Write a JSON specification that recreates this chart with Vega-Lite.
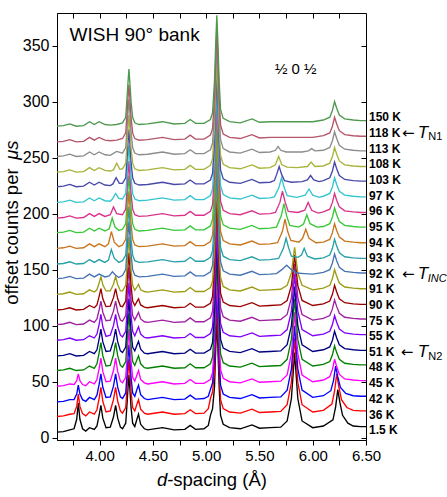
{
  "$schema": "https://vega.github.io/schema/vega-lite/v6.json",
  "autosize": "none",
  "width": 309,
  "height": 427,
  "padding": {"left": 57, "top": 13, "right": 81, "bottom": 57},
  "background": "white",
  "config": {
    "font": "Liberation Sans",
    "view": {"stroke": "black", "strokeWidth": 1},
    "axis": {"domainColor": "black", "tickColor": "black", "labelColor": "black", "grid": false, "labelFont": "Liberation Sans"}
  },
  "resolve": {"axis": {"x": "independent", "y": "independent"}},
  "layer": [
    {
      "data": {"values": [
        {"t":"1.5 K","d":3.6,"c":5},{"t":"1.5 K","d":3.66,"c":5.5},{"t":"1.5 K","d":3.72,"c":7},{"t":"1.5 K","d":3.76,"c":8},{"t":"1.5 K","d":3.785,"c":16.5},{"t":"1.5 K","d":3.8,"c":31},{"t":"1.5 K","d":3.815,"c":16.5},{"t":"1.5 K","d":3.84,"c":8},{"t":"1.5 K","d":3.87,"c":6},{"t":"1.5 K","d":3.905,"c":9},{"t":"1.5 K","d":3.95,"c":7.5},{"t":"1.5 K","d":3.975,"c":10.5},{"t":"1.5 K","d":3.995,"c":20},{"t":"1.5 K","d":4.012,"c":29},{"t":"1.5 K","d":4.03,"c":17.5},{"t":"1.5 K","d":4.06,"c":9},{"t":"1.5 K","d":4.1,"c":9.5},{"t":"1.5 K","d":4.13,"c":18.5},{"t":"1.5 K","d":4.15,"c":29},{"t":"1.5 K","d":4.17,"c":17.5},{"t":"1.5 K","d":4.195,"c":9.5},{"t":"1.5 K","d":4.215,"c":8},{"t":"1.5 K","d":4.245,"c":13},{"t":"1.5 K","d":4.255,"c":27},{"t":"1.5 K","d":4.267,"c":45},{"t":"1.5 K","d":4.275,"c":56},{"t":"1.5 K","d":4.283,"c":45},{"t":"1.5 K","d":4.295,"c":27},{"t":"1.5 K","d":4.31,"c":13},{"t":"1.5 K","d":4.33,"c":10},{"t":"1.5 K","d":4.35,"c":16.5},{"t":"1.5 K","d":4.365,"c":21},{"t":"1.5 K","d":4.385,"c":12},{"t":"1.5 K","d":4.42,"c":8},{"t":"1.5 K","d":4.45,"c":7},{"t":"1.5 K","d":4.59,"c":9},{"t":"1.5 K","d":4.7,"c":7},{"t":"1.5 K","d":4.8,"c":7.5},{"t":"1.5 K","d":4.85,"c":11},{"t":"1.5 K","d":4.9,"c":7.5},{"t":"1.5 K","d":4.98,"c":8},{"t":"1.5 K","d":5.02,"c":11},{"t":"1.5 K","d":5.04,"c":20},{"t":"1.5 K","d":5.06,"c":26},{"t":"1.5 K","d":5.078,"c":45},{"t":"1.5 K","d":5.09,"c":80},{"t":"1.5 K","d":5.1,"c":105},{"t":"1.5 K","d":5.11,"c":80},{"t":"1.5 K","d":5.122,"c":45},{"t":"1.5 K","d":5.135,"c":20},{"t":"1.5 K","d":5.16,"c":12},{"t":"1.5 K","d":5.22,"c":9},{"t":"1.5 K","d":5.32,"c":8},{"t":"1.5 K","d":5.43,"c":11.5},{"t":"1.5 K","d":5.5,"c":8.5},{"t":"1.5 K","d":5.6,"c":9},{"t":"1.5 K","d":5.7,"c":9.5},{"t":"1.5 K","d":5.76,"c":15},{"t":"1.5 K","d":5.8,"c":35},{"t":"1.5 K","d":5.83,"c":76},{"t":"1.5 K","d":5.86,"c":35},{"t":"1.5 K","d":5.9,"c":15},{"t":"1.5 K","d":6.0,"c":9},{"t":"1.5 K","d":6.1,"c":10.5},{"t":"1.5 K","d":6.19,"c":16},{"t":"1.5 K","d":6.215,"c":27.5},{"t":"1.5 K","d":6.235,"c":43},{"t":"1.5 K","d":6.255,"c":31.5},{"t":"1.5 K","d":6.28,"c":20},{"t":"1.5 K","d":6.33,"c":13},{"t":"1.5 K","d":6.38,"c":10.5},{"t":"1.5 K","d":6.45,"c":10},{"t":"1.5 K","d":6.5,"c":10},

        {"t":"36 K","d":3.6,"c":19},{"t":"36 K","d":3.66,"c":19.5},{"t":"36 K","d":3.72,"c":21},{"t":"36 K","d":3.76,"c":21.5},{"t":"36 K","d":3.785,"c":28},{"t":"36 K","d":3.8,"c":39},{"t":"36 K","d":3.815,"c":28},{"t":"36 K","d":3.84,"c":21.5},{"t":"36 K","d":3.87,"c":19.5},{"t":"36 K","d":3.905,"c":23},{"t":"36 K","d":3.95,"c":21},{"t":"36 K","d":3.975,"c":25},{"t":"36 K","d":3.995,"c":35},{"t":"36 K","d":4.012,"c":45},{"t":"36 K","d":4.03,"c":32.5},{"t":"36 K","d":4.06,"c":23},{"t":"36 K","d":4.1,"c":24},{"t":"36 K","d":4.13,"c":34},{"t":"36 K","d":4.15,"c":45},{"t":"36 K","d":4.17,"c":32.5},{"t":"36 K","d":4.195,"c":24},{"t":"36 K","d":4.215,"c":22},{"t":"36 K","d":4.245,"c":27},{"t":"36 K","d":4.255,"c":41},{"t":"36 K","d":4.267,"c":59},{"t":"36 K","d":4.275,"c":70},{"t":"36 K","d":4.283,"c":59},{"t":"36 K","d":4.295,"c":41},{"t":"36 K","d":4.31,"c":27},{"t":"36 K","d":4.33,"c":24},{"t":"36 K","d":4.35,"c":30},{"t":"36 K","d":4.365,"c":34},{"t":"36 K","d":4.385,"c":25.5},{"t":"36 K","d":4.42,"c":22},{"t":"36 K","d":4.45,"c":21},{"t":"36 K","d":4.59,"c":23},{"t":"36 K","d":4.7,"c":21},{"t":"36 K","d":4.8,"c":21.5},{"t":"36 K","d":4.85,"c":25},{"t":"36 K","d":4.9,"c":21.5},{"t":"36 K","d":4.98,"c":22},{"t":"36 K","d":5.02,"c":26},{"t":"36 K","d":5.04,"c":35},{"t":"36 K","d":5.06,"c":41},{"t":"36 K","d":5.078,"c":59},{"t":"36 K","d":5.09,"c":94},{"t":"36 K","d":5.1,"c":119},{"t":"36 K","d":5.11,"c":94},{"t":"36 K","d":5.122,"c":59},{"t":"36 K","d":5.135,"c":34},{"t":"36 K","d":5.16,"c":26},{"t":"36 K","d":5.22,"c":23},{"t":"36 K","d":5.32,"c":22},{"t":"36 K","d":5.43,"c":25.5},{"t":"36 K","d":5.5,"c":22.5},{"t":"36 K","d":5.6,"c":23},{"t":"36 K","d":5.7,"c":23.5},{"t":"36 K","d":5.76,"c":29.5},{"t":"36 K","d":5.8,"c":49.5},{"t":"36 K","d":5.83,"c":89},{"t":"36 K","d":5.86,"c":49.5},{"t":"36 K","d":5.9,"c":29.5},{"t":"36 K","d":6.0,"c":23},{"t":"36 K","d":6.1,"c":24.5},{"t":"36 K","d":6.18,"c":30},{"t":"36 K","d":6.205,"c":41.5},{"t":"36 K","d":6.225,"c":57},{"t":"36 K","d":6.245,"c":45.5},{"t":"36 K","d":6.27,"c":34},{"t":"36 K","d":6.32,"c":27},{"t":"36 K","d":6.38,"c":24.5},{"t":"36 K","d":6.45,"c":24},{"t":"36 K","d":6.5,"c":24},

        {"t":"42 K","d":3.6,"c":32},{"t":"42 K","d":3.66,"c":32.5},{"t":"42 K","d":3.72,"c":34},{"t":"42 K","d":3.76,"c":34},{"t":"42 K","d":3.785,"c":39},{"t":"42 K","d":3.8,"c":47},{"t":"42 K","d":3.815,"c":39},{"t":"42 K","d":3.84,"c":34},{"t":"42 K","d":3.87,"c":32.5},{"t":"42 K","d":3.905,"c":36},{"t":"42 K","d":3.95,"c":34},{"t":"42 K","d":3.975,"c":38},{"t":"42 K","d":3.995,"c":47.5},{"t":"42 K","d":4.012,"c":57},{"t":"42 K","d":4.03,"c":45},{"t":"42 K","d":4.06,"c":36},{"t":"42 K","d":4.1,"c":36.5},{"t":"42 K","d":4.13,"c":46},{"t":"42 K","d":4.15,"c":57},{"t":"42 K","d":4.17,"c":45},{"t":"42 K","d":4.195,"c":36.5},{"t":"42 K","d":4.215,"c":35},{"t":"42 K","d":4.245,"c":40},{"t":"42 K","d":4.255,"c":54},{"t":"42 K","d":4.267,"c":72},{"t":"42 K","d":4.275,"c":83},{"t":"42 K","d":4.283,"c":72},{"t":"42 K","d":4.295,"c":54},{"t":"42 K","d":4.31,"c":40},{"t":"42 K","d":4.33,"c":37},{"t":"42 K","d":4.35,"c":43},{"t":"42 K","d":4.365,"c":47},{"t":"42 K","d":4.385,"c":38.5},{"t":"42 K","d":4.42,"c":35},{"t":"42 K","d":4.45,"c":34},{"t":"42 K","d":4.59,"c":36},{"t":"42 K","d":4.7,"c":34},{"t":"42 K","d":4.8,"c":34.5},{"t":"42 K","d":4.85,"c":38},{"t":"42 K","d":4.9,"c":34.5},{"t":"42 K","d":4.98,"c":35},{"t":"42 K","d":5.02,"c":37},{"t":"42 K","d":5.04,"c":43},{"t":"42 K","d":5.06,"c":49},{"t":"42 K","d":5.078,"c":72},{"t":"42 K","d":5.09,"c":107},{"t":"42 K","d":5.1,"c":132},{"t":"42 K","d":5.11,"c":107},{"t":"42 K","d":5.122,"c":72},{"t":"42 K","d":5.135,"c":47},{"t":"42 K","d":5.16,"c":39},{"t":"42 K","d":5.22,"c":36},{"t":"42 K","d":5.32,"c":35},{"t":"42 K","d":5.43,"c":38.5},{"t":"42 K","d":5.5,"c":35.5},{"t":"42 K","d":5.6,"c":36},{"t":"42 K","d":5.7,"c":36.5},{"t":"42 K","d":5.76,"c":42.5},{"t":"42 K","d":5.8,"c":61.5},{"t":"42 K","d":5.83,"c":100},{"t":"42 K","d":5.86,"c":61.5},{"t":"42 K","d":5.9,"c":42.5},{"t":"42 K","d":6.0,"c":36},{"t":"42 K","d":6.1,"c":37.5},{"t":"42 K","d":6.17,"c":42},{"t":"42 K","d":6.195,"c":51},{"t":"42 K","d":6.215,"c":64},{"t":"42 K","d":6.235,"c":54.5},{"t":"42 K","d":6.26,"c":45},{"t":"42 K","d":6.31,"c":39.5},{"t":"42 K","d":6.38,"c":37.5},{"t":"42 K","d":6.45,"c":37},{"t":"42 K","d":6.5,"c":37},

        {"t":"45 K","d":3.6,"c":46},{"t":"45 K","d":3.66,"c":46.5},{"t":"45 K","d":3.72,"c":48},{"t":"45 K","d":3.76,"c":47.5},{"t":"45 K","d":3.785,"c":51},{"t":"45 K","d":3.8,"c":57},{"t":"45 K","d":3.815,"c":51},{"t":"45 K","d":3.84,"c":47.5},{"t":"45 K","d":3.87,"c":46.5},{"t":"45 K","d":3.905,"c":50},{"t":"45 K","d":3.95,"c":48},{"t":"45 K","d":3.975,"c":52},{"t":"45 K","d":3.995,"c":61.5},{"t":"45 K","d":4.012,"c":71},{"t":"45 K","d":4.03,"c":59},{"t":"45 K","d":4.06,"c":50},{"t":"45 K","d":4.1,"c":50.5},{"t":"45 K","d":4.13,"c":60},{"t":"45 K","d":4.15,"c":71},{"t":"45 K","d":4.17,"c":59},{"t":"45 K","d":4.195,"c":50.5},{"t":"45 K","d":4.215,"c":49},{"t":"45 K","d":4.245,"c":54},{"t":"45 K","d":4.255,"c":68},{"t":"45 K","d":4.267,"c":86},{"t":"45 K","d":4.275,"c":97},{"t":"45 K","d":4.283,"c":86},{"t":"45 K","d":4.295,"c":68},{"t":"45 K","d":4.31,"c":54},{"t":"45 K","d":4.33,"c":50.5},{"t":"45 K","d":4.35,"c":56},{"t":"45 K","d":4.365,"c":60},{"t":"45 K","d":4.385,"c":52},{"t":"45 K","d":4.42,"c":49},{"t":"45 K","d":4.45,"c":48},{"t":"45 K","d":4.59,"c":50},{"t":"45 K","d":4.7,"c":48},{"t":"45 K","d":4.8,"c":48.5},{"t":"45 K","d":4.85,"c":52},{"t":"45 K","d":4.9,"c":48.5},{"t":"45 K","d":4.98,"c":48.5},{"t":"45 K","d":5.04,"c":52},{"t":"45 K","d":5.06,"c":58},{"t":"45 K","d":5.078,"c":86},{"t":"45 K","d":5.09,"c":121},{"t":"45 K","d":5.1,"c":146},{"t":"45 K","d":5.11,"c":121},{"t":"45 K","d":5.122,"c":86},{"t":"45 K","d":5.135,"c":61},{"t":"45 K","d":5.16,"c":53},{"t":"45 K","d":5.22,"c":50},{"t":"45 K","d":5.32,"c":49},{"t":"45 K","d":5.43,"c":52.5},{"t":"45 K","d":5.5,"c":49.5},{"t":"45 K","d":5.6,"c":50},{"t":"45 K","d":5.7,"c":50.5},{"t":"45 K","d":5.76,"c":56},{"t":"45 K","d":5.8,"c":75},{"t":"45 K","d":5.83,"c":112},{"t":"45 K","d":5.86,"c":75},{"t":"45 K","d":5.9,"c":56},{"t":"45 K","d":6.0,"c":50},{"t":"45 K","d":6.1,"c":51.5},{"t":"45 K","d":6.16,"c":54.5},{"t":"45 K","d":6.185,"c":61},{"t":"45 K","d":6.205,"c":70},{"t":"45 K","d":6.225,"c":63.5},{"t":"45 K","d":6.25,"c":56.5},{"t":"45 K","d":6.3,"c":52.5},{"t":"45 K","d":6.38,"c":51.5},{"t":"45 K","d":6.45,"c":51},{"t":"45 K","d":6.5,"c":51},

        {"t":"48 K","d":3.6,"c":60},{"t":"48 K","d":3.66,"c":60.5},{"t":"48 K","d":3.72,"c":62},{"t":"48 K","d":3.78,"c":60},{"t":"48 K","d":3.85,"c":60.5},{"t":"48 K","d":3.905,"c":64},{"t":"48 K","d":3.95,"c":62},{"t":"48 K","d":3.975,"c":66},{"t":"48 K","d":3.995,"c":75.5},{"t":"48 K","d":4.012,"c":85},{"t":"48 K","d":4.03,"c":73},{"t":"48 K","d":4.06,"c":64},{"t":"48 K","d":4.1,"c":64.5},{"t":"48 K","d":4.13,"c":74},{"t":"48 K","d":4.15,"c":85},{"t":"48 K","d":4.17,"c":73},{"t":"48 K","d":4.195,"c":64.5},{"t":"48 K","d":4.215,"c":63},{"t":"48 K","d":4.245,"c":68},{"t":"48 K","d":4.255,"c":82},{"t":"48 K","d":4.267,"c":100},{"t":"48 K","d":4.275,"c":111},{"t":"48 K","d":4.283,"c":100},{"t":"48 K","d":4.295,"c":82},{"t":"48 K","d":4.31,"c":68},{"t":"48 K","d":4.33,"c":64.5},{"t":"48 K","d":4.35,"c":69.5},{"t":"48 K","d":4.365,"c":73},{"t":"48 K","d":4.385,"c":66},{"t":"48 K","d":4.42,"c":62.5},{"t":"48 K","d":4.45,"c":62},{"t":"48 K","d":4.59,"c":64},{"t":"48 K","d":4.7,"c":62},{"t":"48 K","d":4.8,"c":62.5},{"t":"48 K","d":4.85,"c":66},{"t":"48 K","d":4.9,"c":62.5},{"t":"48 K","d":4.98,"c":62.5},{"t":"48 K","d":5.04,"c":66},{"t":"48 K","d":5.06,"c":72},{"t":"48 K","d":5.078,"c":100},{"t":"48 K","d":5.09,"c":135},{"t":"48 K","d":5.1,"c":160},{"t":"48 K","d":5.11,"c":135},{"t":"48 K","d":5.122,"c":100},{"t":"48 K","d":5.135,"c":75},{"t":"48 K","d":5.16,"c":67},{"t":"48 K","d":5.22,"c":64},{"t":"48 K","d":5.32,"c":63},{"t":"48 K","d":5.43,"c":66.5},{"t":"48 K","d":5.5,"c":63.5},{"t":"48 K","d":5.6,"c":64},{"t":"48 K","d":5.7,"c":64.5},{"t":"48 K","d":5.76,"c":70},{"t":"48 K","d":5.8,"c":88},{"t":"48 K","d":5.83,"c":124},{"t":"48 K","d":5.86,"c":88},{"t":"48 K","d":5.9,"c":70},{"t":"48 K","d":6.0,"c":64},{"t":"48 K","d":6.1,"c":65.5},{"t":"48 K","d":6.16,"c":68},{"t":"48 K","d":6.185,"c":74},{"t":"48 K","d":6.205,"c":82},{"t":"48 K","d":6.225,"c":76},{"t":"48 K","d":6.25,"c":70},{"t":"48 K","d":6.3,"c":66.5},{"t":"48 K","d":6.38,"c":65.5},{"t":"48 K","d":6.45,"c":65},{"t":"48 K","d":6.5,"c":65},

        {"t":"51 K","d":3.6,"c":73},{"t":"51 K","d":3.66,"c":73.5},{"t":"51 K","d":3.72,"c":75},{"t":"51 K","d":3.78,"c":73},{"t":"51 K","d":3.85,"c":73.5},{"t":"51 K","d":3.905,"c":77},{"t":"51 K","d":3.95,"c":75},{"t":"51 K","d":3.975,"c":78.5},{"t":"51 K","d":3.995,"c":88},{"t":"51 K","d":4.012,"c":97},{"t":"51 K","d":4.03,"c":85.5},{"t":"51 K","d":4.06,"c":77},{"t":"51 K","d":4.1,"c":77.5},{"t":"51 K","d":4.13,"c":86.5},{"t":"51 K","d":4.15,"c":97},{"t":"51 K","d":4.17,"c":85.5},{"t":"51 K","d":4.195,"c":77.5},{"t":"51 K","d":4.215,"c":76},{"t":"51 K","d":4.245,"c":81},{"t":"51 K","d":4.255,"c":95},{"t":"51 K","d":4.267,"c":113},{"t":"51 K","d":4.275,"c":124},{"t":"51 K","d":4.283,"c":113},{"t":"51 K","d":4.295,"c":95},{"t":"51 K","d":4.31,"c":81},{"t":"51 K","d":4.33,"c":77.5},{"t":"51 K","d":4.35,"c":82.5},{"t":"51 K","d":4.365,"c":86},{"t":"51 K","d":4.385,"c":79},{"t":"51 K","d":4.42,"c":75.5},{"t":"51 K","d":4.45,"c":75},{"t":"51 K","d":4.59,"c":77},{"t":"51 K","d":4.7,"c":75},{"t":"51 K","d":4.8,"c":75.5},{"t":"51 K","d":4.85,"c":79},{"t":"51 K","d":4.9,"c":75.5},{"t":"51 K","d":4.98,"c":75.5},{"t":"51 K","d":5.04,"c":79},{"t":"51 K","d":5.06,"c":85},{"t":"51 K","d":5.078,"c":113},{"t":"51 K","d":5.09,"c":148},{"t":"51 K","d":5.1,"c":173},{"t":"51 K","d":5.11,"c":148},{"t":"51 K","d":5.122,"c":113},{"t":"51 K","d":5.135,"c":88},{"t":"51 K","d":5.16,"c":80},{"t":"51 K","d":5.22,"c":77},{"t":"51 K","d":5.32,"c":76},{"t":"51 K","d":5.43,"c":79.5},{"t":"51 K","d":5.5,"c":76.5},{"t":"51 K","d":5.6,"c":77},{"t":"51 K","d":5.7,"c":77.5},{"t":"51 K","d":5.76,"c":83},{"t":"51 K","d":5.8,"c":100},{"t":"51 K","d":5.83,"c":135},{"t":"51 K","d":5.86,"c":100},{"t":"51 K","d":5.9,"c":83},{"t":"51 K","d":6.0,"c":77},{"t":"51 K","d":6.1,"c":78.5},{"t":"51 K","d":6.16,"c":81},{"t":"51 K","d":6.185,"c":87},{"t":"51 K","d":6.205,"c":95},{"t":"51 K","d":6.225,"c":89},{"t":"51 K","d":6.25,"c":83},{"t":"51 K","d":6.3,"c":79.5},{"t":"51 K","d":6.38,"c":78.5},{"t":"51 K","d":6.45,"c":78},{"t":"51 K","d":6.5,"c":78},

        {"t":"55 K","d":3.6,"c":87},{"t":"55 K","d":3.66,"c":87.5},{"t":"55 K","d":3.72,"c":89},{"t":"55 K","d":3.78,"c":87},{"t":"55 K","d":3.85,"c":87.5},{"t":"55 K","d":3.905,"c":91},{"t":"55 K","d":3.95,"c":89},{"t":"55 K","d":3.975,"c":92.5},{"t":"55 K","d":3.995,"c":101},{"t":"55 K","d":4.012,"c":110},{"t":"55 K","d":4.03,"c":99},{"t":"55 K","d":4.06,"c":90.5},{"t":"55 K","d":4.1,"c":91.5},{"t":"55 K","d":4.13,"c":100},{"t":"55 K","d":4.15,"c":110},{"t":"55 K","d":4.17,"c":99},{"t":"55 K","d":4.195,"c":91.5},{"t":"55 K","d":4.215,"c":90},{"t":"55 K","d":4.245,"c":95},{"t":"55 K","d":4.255,"c":109},{"t":"55 K","d":4.267,"c":127},{"t":"55 K","d":4.275,"c":138},{"t":"55 K","d":4.283,"c":127},{"t":"55 K","d":4.295,"c":109},{"t":"55 K","d":4.31,"c":95},{"t":"55 K","d":4.33,"c":91},{"t":"55 K","d":4.35,"c":95.5},{"t":"55 K","d":4.365,"c":99},{"t":"55 K","d":4.385,"c":92.5},{"t":"55 K","d":4.42,"c":89.5},{"t":"55 K","d":4.45,"c":89},{"t":"55 K","d":4.59,"c":91},{"t":"55 K","d":4.7,"c":89},{"t":"55 K","d":4.8,"c":89.5},{"t":"55 K","d":4.85,"c":93},{"t":"55 K","d":4.9,"c":89.5},{"t":"55 K","d":4.98,"c":89.5},{"t":"55 K","d":5.04,"c":93},{"t":"55 K","d":5.06,"c":99},{"t":"55 K","d":5.078,"c":127},{"t":"55 K","d":5.09,"c":162},{"t":"55 K","d":5.1,"c":187},{"t":"55 K","d":5.11,"c":162},{"t":"55 K","d":5.122,"c":127},{"t":"55 K","d":5.135,"c":102},{"t":"55 K","d":5.16,"c":94},{"t":"55 K","d":5.22,"c":91},{"t":"55 K","d":5.32,"c":90},{"t":"55 K","d":5.43,"c":93.5},{"t":"55 K","d":5.5,"c":90.5},{"t":"55 K","d":5.6,"c":91},{"t":"55 K","d":5.7,"c":91.5},{"t":"55 K","d":5.76,"c":96.5},{"t":"55 K","d":5.8,"c":113},{"t":"55 K","d":5.83,"c":146},{"t":"55 K","d":5.86,"c":113},{"t":"55 K","d":5.9,"c":96.5},{"t":"55 K","d":6.0,"c":91},{"t":"55 K","d":6.1,"c":92.5},{"t":"55 K","d":6.16,"c":95},{"t":"55 K","d":6.185,"c":101},{"t":"55 K","d":6.205,"c":109},{"t":"55 K","d":6.225,"c":103},{"t":"55 K","d":6.25,"c":97},{"t":"55 K","d":6.3,"c":93.5},{"t":"55 K","d":6.38,"c":92.5},{"t":"55 K","d":6.45,"c":92},{"t":"55 K","d":6.5,"c":92},

        {"t":"75 K","d":3.6,"c":101},{"t":"75 K","d":3.66,"c":101.5},{"t":"75 K","d":3.72,"c":103},{"t":"75 K","d":3.78,"c":101},{"t":"75 K","d":3.85,"c":101.5},{"t":"75 K","d":3.905,"c":105},{"t":"75 K","d":3.95,"c":103},{"t":"75 K","d":3.975,"c":106},{"t":"75 K","d":3.995,"c":114},{"t":"75 K","d":4.012,"c":122},{"t":"75 K","d":4.03,"c":112},{"t":"75 K","d":4.06,"c":104.5},{"t":"75 K","d":4.1,"c":105},{"t":"75 K","d":4.13,"c":113},{"t":"75 K","d":4.15,"c":122},{"t":"75 K","d":4.17,"c":112},{"t":"75 K","d":4.195,"c":105},{"t":"75 K","d":4.215,"c":104},{"t":"75 K","d":4.245,"c":109},{"t":"75 K","d":4.255,"c":123},{"t":"75 K","d":4.267,"c":141},{"t":"75 K","d":4.275,"c":152},{"t":"75 K","d":4.283,"c":141},{"t":"75 K","d":4.295,"c":123},{"t":"75 K","d":4.31,"c":109},{"t":"75 K","d":4.33,"c":105},{"t":"75 K","d":4.35,"c":109},{"t":"75 K","d":4.365,"c":112},{"t":"75 K","d":4.385,"c":106},{"t":"75 K","d":4.42,"c":103.5},{"t":"75 K","d":4.45,"c":103},{"t":"75 K","d":4.59,"c":105},{"t":"75 K","d":4.7,"c":103},{"t":"75 K","d":4.8,"c":103.5},{"t":"75 K","d":4.85,"c":107},{"t":"75 K","d":4.9,"c":103.5},{"t":"75 K","d":4.98,"c":103.5},{"t":"75 K","d":5.04,"c":107},{"t":"75 K","d":5.06,"c":113},{"t":"75 K","d":5.078,"c":141},{"t":"75 K","d":5.09,"c":176},{"t":"75 K","d":5.1,"c":201},{"t":"75 K","d":5.11,"c":176},{"t":"75 K","d":5.122,"c":141},{"t":"75 K","d":5.135,"c":116},{"t":"75 K","d":5.16,"c":108},{"t":"75 K","d":5.22,"c":105},{"t":"75 K","d":5.32,"c":104},{"t":"75 K","d":5.43,"c":107.5},{"t":"75 K","d":5.5,"c":104.5},{"t":"75 K","d":5.6,"c":105},{"t":"75 K","d":5.7,"c":105.5},{"t":"75 K","d":5.76,"c":110},{"t":"75 K","d":5.8,"c":125},{"t":"75 K","d":5.83,"c":155},{"t":"75 K","d":5.86,"c":125},{"t":"75 K","d":5.9,"c":110},{"t":"75 K","d":6.0,"c":105},{"t":"75 K","d":6.1,"c":106.5},{"t":"75 K","d":6.16,"c":109},{"t":"75 K","d":6.185,"c":115},{"t":"75 K","d":6.205,"c":123},{"t":"75 K","d":6.225,"c":117},{"t":"75 K","d":6.25,"c":111},{"t":"75 K","d":6.3,"c":107.5},{"t":"75 K","d":6.38,"c":106.5},{"t":"75 K","d":6.45,"c":106},{"t":"75 K","d":6.5,"c":106},

        {"t":"90 K","d":3.6,"c":114},{"t":"90 K","d":3.66,"c":114.5},{"t":"90 K","d":3.72,"c":116},{"t":"90 K","d":3.78,"c":114},{"t":"90 K","d":3.85,"c":114.5},{"t":"90 K","d":3.905,"c":118},{"t":"90 K","d":3.95,"c":116},{"t":"90 K","d":3.975,"c":118.5},{"t":"90 K","d":3.995,"c":126},{"t":"90 K","d":4.012,"c":133},{"t":"90 K","d":4.03,"c":124},{"t":"90 K","d":4.06,"c":117},{"t":"90 K","d":4.1,"c":117.5},{"t":"90 K","d":4.13,"c":125},{"t":"90 K","d":4.15,"c":133},{"t":"90 K","d":4.17,"c":124},{"t":"90 K","d":4.195,"c":117.5},{"t":"90 K","d":4.215,"c":117},{"t":"90 K","d":4.245,"c":122},{"t":"90 K","d":4.255,"c":136},{"t":"90 K","d":4.267,"c":154},{"t":"90 K","d":4.275,"c":165},{"t":"90 K","d":4.283,"c":154},{"t":"90 K","d":4.295,"c":136},{"t":"90 K","d":4.31,"c":122},{"t":"90 K","d":4.33,"c":118},{"t":"90 K","d":4.35,"c":121.5},{"t":"90 K","d":4.365,"c":124},{"t":"90 K","d":4.385,"c":118.5},{"t":"90 K","d":4.42,"c":116.5},{"t":"90 K","d":4.45,"c":116},{"t":"90 K","d":4.59,"c":118},{"t":"90 K","d":4.7,"c":116},{"t":"90 K","d":4.8,"c":116.5},{"t":"90 K","d":4.85,"c":120},{"t":"90 K","d":4.9,"c":116.5},{"t":"90 K","d":4.98,"c":116.5},{"t":"90 K","d":5.04,"c":120},{"t":"90 K","d":5.06,"c":126},{"t":"90 K","d":5.078,"c":154},{"t":"90 K","d":5.09,"c":189},{"t":"90 K","d":5.1,"c":214},{"t":"90 K","d":5.11,"c":189},{"t":"90 K","d":5.122,"c":154},{"t":"90 K","d":5.135,"c":129},{"t":"90 K","d":5.16,"c":121},{"t":"90 K","d":5.22,"c":118},{"t":"90 K","d":5.32,"c":117},{"t":"90 K","d":5.43,"c":120.5},{"t":"90 K","d":5.5,"c":117.5},{"t":"90 K","d":5.6,"c":118},{"t":"90 K","d":5.7,"c":118.5},{"t":"90 K","d":5.76,"c":122.5},{"t":"90 K","d":5.8,"c":136},{"t":"90 K","d":5.83,"c":163},{"t":"90 K","d":5.86,"c":136},{"t":"90 K","d":5.9,"c":122.5},{"t":"90 K","d":6.0,"c":118},{"t":"90 K","d":6.1,"c":119.5},{"t":"90 K","d":6.16,"c":122},{"t":"90 K","d":6.185,"c":128},{"t":"90 K","d":6.205,"c":136},{"t":"90 K","d":6.225,"c":130},{"t":"90 K","d":6.25,"c":124},{"t":"90 K","d":6.3,"c":120.5},{"t":"90 K","d":6.38,"c":119.5},{"t":"90 K","d":6.45,"c":119},{"t":"90 K","d":6.5,"c":119},

        {"t":"91 K","d":3.6,"c":128},{"t":"91 K","d":3.66,"c":128.5},{"t":"91 K","d":3.72,"c":130},{"t":"91 K","d":3.78,"c":128},{"t":"91 K","d":3.85,"c":128.5},{"t":"91 K","d":3.905,"c":132},{"t":"91 K","d":3.95,"c":130},{"t":"91 K","d":3.975,"c":132},{"t":"91 K","d":3.995,"c":138},{"t":"91 K","d":4.012,"c":144},{"t":"91 K","d":4.03,"c":136.5},{"t":"91 K","d":4.06,"c":131},{"t":"91 K","d":4.1,"c":131},{"t":"91 K","d":4.13,"c":137},{"t":"91 K","d":4.15,"c":144},{"t":"91 K","d":4.17,"c":136.5},{"t":"91 K","d":4.195,"c":131},{"t":"91 K","d":4.215,"c":131},{"t":"91 K","d":4.245,"c":136},{"t":"91 K","d":4.255,"c":150},{"t":"91 K","d":4.267,"c":168},{"t":"91 K","d":4.275,"c":179},{"t":"91 K","d":4.283,"c":168},{"t":"91 K","d":4.295,"c":150},{"t":"91 K","d":4.31,"c":136},{"t":"91 K","d":4.33,"c":131.5},{"t":"91 K","d":4.35,"c":134.5},{"t":"91 K","d":4.365,"c":137},{"t":"91 K","d":4.385,"c":132},{"t":"91 K","d":4.42,"c":130.5},{"t":"91 K","d":4.45,"c":130},{"t":"91 K","d":4.59,"c":132},{"t":"91 K","d":4.7,"c":130},{"t":"91 K","d":4.8,"c":130.5},{"t":"91 K","d":4.85,"c":134},{"t":"91 K","d":4.9,"c":130.5},{"t":"91 K","d":4.98,"c":130.5},{"t":"91 K","d":5.04,"c":134},{"t":"91 K","d":5.06,"c":140},{"t":"91 K","d":5.078,"c":168},{"t":"91 K","d":5.09,"c":203},{"t":"91 K","d":5.1,"c":228},{"t":"91 K","d":5.11,"c":203},{"t":"91 K","d":5.122,"c":168},{"t":"91 K","d":5.135,"c":143},{"t":"91 K","d":5.16,"c":135},{"t":"91 K","d":5.22,"c":132},{"t":"91 K","d":5.32,"c":131},{"t":"91 K","d":5.43,"c":134.5},{"t":"91 K","d":5.5,"c":131.5},{"t":"91 K","d":5.6,"c":132},{"t":"91 K","d":5.7,"c":132.5},{"t":"91 K","d":5.76,"c":136},{"t":"91 K","d":5.8,"c":147},{"t":"91 K","d":5.83,"c":170},{"t":"91 K","d":5.86,"c":147},{"t":"91 K","d":5.9,"c":136},{"t":"91 K","d":6.0,"c":132},{"t":"91 K","d":6.1,"c":133.5},{"t":"91 K","d":6.16,"c":136},{"t":"91 K","d":6.185,"c":142},{"t":"91 K","d":6.205,"c":150},{"t":"91 K","d":6.225,"c":144},{"t":"91 K","d":6.25,"c":138},{"t":"91 K","d":6.3,"c":134.5},{"t":"91 K","d":6.38,"c":133.5},{"t":"91 K","d":6.45,"c":133},{"t":"91 K","d":6.5,"c":133},

        {"t":"92 K","d":3.6,"c":142},{"t":"92 K","d":3.66,"c":142.5},{"t":"92 K","d":3.72,"c":144},{"t":"92 K","d":3.78,"c":142},{"t":"92 K","d":3.85,"c":142.5},{"t":"92 K","d":3.905,"c":146},{"t":"92 K","d":3.95,"c":143.5},{"t":"92 K","d":3.995,"c":146},{"t":"92 K","d":4.05,"c":143.5},{"t":"92 K","d":4.09,"c":144.5},{"t":"92 K","d":4.12,"c":148},{"t":"92 K","d":4.15,"c":145},{"t":"92 K","d":4.18,"c":143},{"t":"92 K","d":4.215,"c":145},{"t":"92 K","d":4.245,"c":150},{"t":"92 K","d":4.255,"c":164},{"t":"92 K","d":4.267,"c":182},{"t":"92 K","d":4.275,"c":193},{"t":"92 K","d":4.283,"c":182},{"t":"92 K","d":4.295,"c":164},{"t":"92 K","d":4.31,"c":150},{"t":"92 K","d":4.33,"c":145},{"t":"92 K","d":4.37,"c":143.5},{"t":"92 K","d":4.45,"c":144},{"t":"92 K","d":4.59,"c":146},{"t":"92 K","d":4.7,"c":144},{"t":"92 K","d":4.8,"c":144.5},{"t":"92 K","d":4.85,"c":148},{"t":"92 K","d":4.9,"c":144.5},{"t":"92 K","d":4.98,"c":144.5},{"t":"92 K","d":5.04,"c":148},{"t":"92 K","d":5.06,"c":154},{"t":"92 K","d":5.078,"c":182},{"t":"92 K","d":5.09,"c":217},{"t":"92 K","d":5.1,"c":242},{"t":"92 K","d":5.11,"c":217},{"t":"92 K","d":5.122,"c":182},{"t":"92 K","d":5.135,"c":157},{"t":"92 K","d":5.16,"c":149},{"t":"92 K","d":5.22,"c":146},{"t":"92 K","d":5.32,"c":145},{"t":"92 K","d":5.43,"c":148.5},{"t":"92 K","d":5.5,"c":145.5},{"t":"92 K","d":5.6,"c":146},{"t":"92 K","d":5.66,"c":146.5},{"t":"92 K","d":5.71,"c":150},{"t":"92 K","d":5.755,"c":154},{"t":"92 K","d":5.8,"c":150},{"t":"92 K","d":5.85,"c":147},{"t":"92 K","d":5.92,"c":146.5},{"t":"92 K","d":6.0,"c":146},{"t":"92 K","d":6.1,"c":147.5},{"t":"92 K","d":6.16,"c":150},{"t":"92 K","d":6.185,"c":156},{"t":"92 K","d":6.205,"c":164},{"t":"92 K","d":6.225,"c":158},{"t":"92 K","d":6.25,"c":152},{"t":"92 K","d":6.3,"c":148.5},{"t":"92 K","d":6.38,"c":147.5},{"t":"92 K","d":6.45,"c":147},{"t":"92 K","d":6.5,"c":147},

        {"t":"93 K","d":3.6,"c":155},{"t":"93 K","d":3.66,"c":155.5},{"t":"93 K","d":3.72,"c":157},{"t":"93 K","d":3.78,"c":155},{"t":"93 K","d":3.85,"c":155.5},{"t":"93 K","d":3.905,"c":159},{"t":"93 K","d":3.95,"c":156.5},{"t":"93 K","d":3.995,"c":159},{"t":"93 K","d":4.05,"c":156.5},{"t":"93 K","d":4.083,"c":158.5},{"t":"93 K","d":4.11,"c":168},{"t":"93 K","d":4.138,"c":160},{"t":"93 K","d":4.18,"c":156.5},{"t":"93 K","d":4.215,"c":158},{"t":"93 K","d":4.245,"c":163},{"t":"93 K","d":4.255,"c":177},{"t":"93 K","d":4.267,"c":195},{"t":"93 K","d":4.275,"c":206},{"t":"93 K","d":4.283,"c":195},{"t":"93 K","d":4.295,"c":177},{"t":"93 K","d":4.31,"c":163},{"t":"93 K","d":4.33,"c":158},{"t":"93 K","d":4.37,"c":156.5},{"t":"93 K","d":4.45,"c":157},{"t":"93 K","d":4.59,"c":159},{"t":"93 K","d":4.7,"c":157},{"t":"93 K","d":4.8,"c":157.5},{"t":"93 K","d":4.85,"c":161},{"t":"93 K","d":4.9,"c":157.5},{"t":"93 K","d":4.98,"c":157.5},{"t":"93 K","d":5.04,"c":161},{"t":"93 K","d":5.06,"c":167},{"t":"93 K","d":5.078,"c":195},{"t":"93 K","d":5.09,"c":230},{"t":"93 K","d":5.1,"c":255},{"t":"93 K","d":5.11,"c":230},{"t":"93 K","d":5.122,"c":195},{"t":"93 K","d":5.135,"c":170},{"t":"93 K","d":5.16,"c":162},{"t":"93 K","d":5.22,"c":159},{"t":"93 K","d":5.32,"c":158},{"t":"93 K","d":5.43,"c":161.5},{"t":"93 K","d":5.5,"c":158.5},{"t":"93 K","d":5.6,"c":159},{"t":"93 K","d":5.68,"c":160},{"t":"93 K","d":5.725,"c":169},{"t":"93 K","d":5.75,"c":178},{"t":"93 K","d":5.775,"c":169},{"t":"93 K","d":5.8,"c":162},{"t":"93 K","d":5.86,"c":161},{"t":"93 K","d":5.895,"c":163},{"t":"93 K","d":5.92,"c":169},{"t":"93 K","d":5.95,"c":162},{"t":"93 K","d":6.02,"c":159.5},{"t":"93 K","d":6.1,"c":160.5},{"t":"93 K","d":6.16,"c":163},{"t":"93 K","d":6.185,"c":169},{"t":"93 K","d":6.205,"c":177},{"t":"93 K","d":6.225,"c":171},{"t":"93 K","d":6.25,"c":165},{"t":"93 K","d":6.3,"c":161.5},{"t":"93 K","d":6.38,"c":160.5},{"t":"93 K","d":6.45,"c":160},{"t":"93 K","d":6.5,"c":160},

        {"t":"94 K","d":3.6,"c":169},{"t":"94 K","d":3.66,"c":169.5},{"t":"94 K","d":3.72,"c":171},{"t":"94 K","d":3.78,"c":169},{"t":"94 K","d":3.85,"c":169.5},{"t":"94 K","d":3.905,"c":173},{"t":"94 K","d":3.95,"c":170.5},{"t":"94 K","d":3.995,"c":173},{"t":"94 K","d":4.05,"c":170.5},{"t":"94 K","d":4.083,"c":173},{"t":"94 K","d":4.11,"c":184},{"t":"94 K","d":4.138,"c":174.5},{"t":"94 K","d":4.18,"c":170.5},{"t":"94 K","d":4.215,"c":172},{"t":"94 K","d":4.245,"c":177},{"t":"94 K","d":4.255,"c":191},{"t":"94 K","d":4.267,"c":209},{"t":"94 K","d":4.275,"c":220},{"t":"94 K","d":4.283,"c":209},{"t":"94 K","d":4.295,"c":191},{"t":"94 K","d":4.31,"c":177},{"t":"94 K","d":4.33,"c":172},{"t":"94 K","d":4.37,"c":170.5},{"t":"94 K","d":4.45,"c":171},{"t":"94 K","d":4.59,"c":173},{"t":"94 K","d":4.7,"c":171},{"t":"94 K","d":4.8,"c":171.5},{"t":"94 K","d":4.85,"c":175},{"t":"94 K","d":4.9,"c":171.5},{"t":"94 K","d":4.98,"c":171.5},{"t":"94 K","d":5.04,"c":175},{"t":"94 K","d":5.06,"c":181},{"t":"94 K","d":5.078,"c":209},{"t":"94 K","d":5.09,"c":244},{"t":"94 K","d":5.1,"c":269},{"t":"94 K","d":5.11,"c":244},{"t":"94 K","d":5.122,"c":209},{"t":"94 K","d":5.135,"c":184},{"t":"94 K","d":5.16,"c":176},{"t":"94 K","d":5.22,"c":173},{"t":"94 K","d":5.32,"c":172},{"t":"94 K","d":5.43,"c":175.5},{"t":"94 K","d":5.5,"c":172.5},{"t":"94 K","d":5.6,"c":173},{"t":"94 K","d":5.67,"c":174},{"t":"94 K","d":5.715,"c":184},{"t":"94 K","d":5.74,"c":195},{"t":"94 K","d":5.765,"c":184},{"t":"94 K","d":5.795,"c":176},{"t":"94 K","d":5.87,"c":174.5},{"t":"94 K","d":5.905,"c":178},{"t":"94 K","d":5.935,"c":186},{"t":"94 K","d":5.965,"c":178},{"t":"94 K","d":6.03,"c":174},{"t":"94 K","d":6.1,"c":174.5},{"t":"94 K","d":6.16,"c":177},{"t":"94 K","d":6.185,"c":183},{"t":"94 K","d":6.205,"c":191},{"t":"94 K","d":6.225,"c":185},{"t":"94 K","d":6.25,"c":179},{"t":"94 K","d":6.3,"c":175.5},{"t":"94 K","d":6.38,"c":174.5},{"t":"94 K","d":6.45,"c":174},{"t":"94 K","d":6.5,"c":174},

        {"t":"95 K","d":3.6,"c":183},{"t":"95 K","d":3.66,"c":183.5},{"t":"95 K","d":3.72,"c":185},{"t":"95 K","d":3.78,"c":183},{"t":"95 K","d":3.85,"c":183.5},{"t":"95 K","d":3.905,"c":187},{"t":"95 K","d":3.95,"c":184.5},{"t":"95 K","d":3.995,"c":187},{"t":"95 K","d":4.05,"c":184.5},{"t":"95 K","d":4.09,"c":186.5},{"t":"95 K","d":4.118,"c":196},{"t":"95 K","d":4.145,"c":188},{"t":"95 K","d":4.18,"c":185},{"t":"95 K","d":4.215,"c":186},{"t":"95 K","d":4.245,"c":191},{"t":"95 K","d":4.255,"c":205},{"t":"95 K","d":4.267,"c":223},{"t":"95 K","d":4.275,"c":234},{"t":"95 K","d":4.283,"c":223},{"t":"95 K","d":4.295,"c":205},{"t":"95 K","d":4.31,"c":191},{"t":"95 K","d":4.33,"c":186},{"t":"95 K","d":4.37,"c":184.5},{"t":"95 K","d":4.45,"c":185},{"t":"95 K","d":4.59,"c":187},{"t":"95 K","d":4.7,"c":185},{"t":"95 K","d":4.8,"c":185.5},{"t":"95 K","d":4.85,"c":189},{"t":"95 K","d":4.9,"c":185.5},{"t":"95 K","d":4.98,"c":185.5},{"t":"95 K","d":5.04,"c":189},{"t":"95 K","d":5.06,"c":195},{"t":"95 K","d":5.078,"c":223},{"t":"95 K","d":5.09,"c":258},{"t":"95 K","d":5.1,"c":283},{"t":"95 K","d":5.11,"c":258},{"t":"95 K","d":5.122,"c":223},{"t":"95 K","d":5.135,"c":198},{"t":"95 K","d":5.16,"c":190},{"t":"95 K","d":5.22,"c":187},{"t":"95 K","d":5.32,"c":186},{"t":"95 K","d":5.43,"c":189.5},{"t":"95 K","d":5.5,"c":186.5},{"t":"95 K","d":5.6,"c":187},{"t":"95 K","d":5.66,"c":188},{"t":"95 K","d":5.705,"c":198},{"t":"95 K","d":5.73,"c":209},{"t":"95 K","d":5.755,"c":198},{"t":"95 K","d":5.785,"c":189.5},{"t":"95 K","d":5.87,"c":188},{"t":"95 K","d":5.915,"c":191},{"t":"95 K","d":5.945,"c":199},{"t":"95 K","d":5.975,"c":191},{"t":"95 K","d":6.04,"c":188},{"t":"95 K","d":6.1,"c":188.5},{"t":"95 K","d":6.16,"c":191},{"t":"95 K","d":6.185,"c":197},{"t":"95 K","d":6.205,"c":205},{"t":"95 K","d":6.225,"c":199},{"t":"95 K","d":6.25,"c":193},{"t":"95 K","d":6.3,"c":189.5},{"t":"95 K","d":6.38,"c":188.5},{"t":"95 K","d":6.45,"c":188},{"t":"95 K","d":6.5,"c":188},

        {"t":"96 K","d":3.6,"c":196},{"t":"96 K","d":3.66,"c":196.5},{"t":"96 K","d":3.72,"c":198},{"t":"96 K","d":3.78,"c":196},{"t":"96 K","d":3.85,"c":196.5},{"t":"96 K","d":3.905,"c":200},{"t":"96 K","d":3.95,"c":197.5},{"t":"96 K","d":3.995,"c":200},{"t":"96 K","d":4.05,"c":197.5},{"t":"96 K","d":4.1,"c":199},{"t":"96 K","d":4.13,"c":206},{"t":"96 K","d":4.16,"c":200},{"t":"96 K","d":4.215,"c":199},{"t":"96 K","d":4.245,"c":204},{"t":"96 K","d":4.255,"c":218},{"t":"96 K","d":4.267,"c":236},{"t":"96 K","d":4.275,"c":247},{"t":"96 K","d":4.283,"c":236},{"t":"96 K","d":4.295,"c":218},{"t":"96 K","d":4.31,"c":204},{"t":"96 K","d":4.33,"c":199},{"t":"96 K","d":4.37,"c":197.5},{"t":"96 K","d":4.45,"c":198},{"t":"96 K","d":4.59,"c":200},{"t":"96 K","d":4.7,"c":198},{"t":"96 K","d":4.8,"c":198.5},{"t":"96 K","d":4.85,"c":202},{"t":"96 K","d":4.9,"c":198.5},{"t":"96 K","d":4.98,"c":198.5},{"t":"96 K","d":5.04,"c":202},{"t":"96 K","d":5.06,"c":208},{"t":"96 K","d":5.078,"c":236},{"t":"96 K","d":5.09,"c":271},{"t":"96 K","d":5.1,"c":296},{"t":"96 K","d":5.11,"c":271},{"t":"96 K","d":5.122,"c":236},{"t":"96 K","d":5.135,"c":211},{"t":"96 K","d":5.16,"c":203},{"t":"96 K","d":5.22,"c":200},{"t":"96 K","d":5.32,"c":199},{"t":"96 K","d":5.43,"c":202.5},{"t":"96 K","d":5.5,"c":199.5},{"t":"96 K","d":5.6,"c":200},{"t":"96 K","d":5.65,"c":201},{"t":"96 K","d":5.692,"c":210},{"t":"96 K","d":5.716,"c":220},{"t":"96 K","d":5.742,"c":210},{"t":"96 K","d":5.77,"c":202},{"t":"96 K","d":5.86,"c":201},{"t":"96 K","d":5.925,"c":203},{"t":"96 K","d":5.957,"c":210},{"t":"96 K","d":5.99,"c":203},{"t":"96 K","d":6.05,"c":200.5},{"t":"96 K","d":6.1,"c":201.5},{"t":"96 K","d":6.16,"c":204},{"t":"96 K","d":6.185,"c":210},{"t":"96 K","d":6.205,"c":218},{"t":"96 K","d":6.225,"c":212},{"t":"96 K","d":6.25,"c":206},{"t":"96 K","d":6.3,"c":202.5},{"t":"96 K","d":6.38,"c":201.5},{"t":"96 K","d":6.45,"c":201},{"t":"96 K","d":6.5,"c":201},

        {"t":"97 K","d":3.6,"c":210},{"t":"97 K","d":3.66,"c":210.5},{"t":"97 K","d":3.72,"c":212},{"t":"97 K","d":3.78,"c":210},{"t":"97 K","d":3.85,"c":210.5},{"t":"97 K","d":3.905,"c":214},{"t":"97 K","d":3.95,"c":211.5},{"t":"97 K","d":3.995,"c":214},{"t":"97 K","d":4.05,"c":211.5},{"t":"97 K","d":4.1,"c":211},{"t":"97 K","d":4.12,"c":213},{"t":"97 K","d":4.15,"c":218},{"t":"97 K","d":4.18,"c":213.5},{"t":"97 K","d":4.215,"c":213},{"t":"97 K","d":4.245,"c":218},{"t":"97 K","d":4.255,"c":232},{"t":"97 K","d":4.267,"c":250},{"t":"97 K","d":4.275,"c":261},{"t":"97 K","d":4.283,"c":250},{"t":"97 K","d":4.295,"c":232},{"t":"97 K","d":4.31,"c":218},{"t":"97 K","d":4.33,"c":213},{"t":"97 K","d":4.37,"c":211.5},{"t":"97 K","d":4.45,"c":212},{"t":"97 K","d":4.59,"c":214},{"t":"97 K","d":4.7,"c":212},{"t":"97 K","d":4.8,"c":212.5},{"t":"97 K","d":4.85,"c":216},{"t":"97 K","d":4.9,"c":212.5},{"t":"97 K","d":4.98,"c":212.5},{"t":"97 K","d":5.04,"c":216},{"t":"97 K","d":5.06,"c":222},{"t":"97 K","d":5.078,"c":250},{"t":"97 K","d":5.09,"c":285},{"t":"97 K","d":5.1,"c":310},{"t":"97 K","d":5.11,"c":285},{"t":"97 K","d":5.122,"c":250},{"t":"97 K","d":5.135,"c":225},{"t":"97 K","d":5.16,"c":217},{"t":"97 K","d":5.22,"c":214},{"t":"97 K","d":5.32,"c":213},{"t":"97 K","d":5.43,"c":216.5},{"t":"97 K","d":5.5,"c":213.5},{"t":"97 K","d":5.6,"c":214},{"t":"97 K","d":5.64,"c":215},{"t":"97 K","d":5.682,"c":223},{"t":"97 K","d":5.707,"c":232},{"t":"97 K","d":5.733,"c":223},{"t":"97 K","d":5.76,"c":216},{"t":"97 K","d":5.85,"c":214.5},{"t":"97 K","d":5.93,"c":216.5},{"t":"97 K","d":5.965,"c":222},{"t":"97 K","d":6.0,"c":216.5},{"t":"97 K","d":6.06,"c":214.5},{"t":"97 K","d":6.1,"c":215.5},{"t":"97 K","d":6.16,"c":218},{"t":"97 K","d":6.185,"c":224},{"t":"97 K","d":6.205,"c":232},{"t":"97 K","d":6.225,"c":226},{"t":"97 K","d":6.25,"c":220},{"t":"97 K","d":6.3,"c":216.5},{"t":"97 K","d":6.38,"c":215.5},{"t":"97 K","d":6.45,"c":215},{"t":"97 K","d":6.5,"c":215},

        {"t":"103 K","d":3.6,"c":224},{"t":"103 K","d":3.66,"c":224.5},{"t":"103 K","d":3.72,"c":226},{"t":"103 K","d":3.78,"c":224},{"t":"103 K","d":3.85,"c":224.5},{"t":"103 K","d":3.905,"c":228},{"t":"103 K","d":3.95,"c":225.5},{"t":"103 K","d":3.995,"c":228},{"t":"103 K","d":4.05,"c":225.5},{"t":"103 K","d":4.1,"c":225},{"t":"103 K","d":4.125,"c":226.5},{"t":"103 K","d":4.155,"c":232},{"t":"103 K","d":4.185,"c":227},{"t":"103 K","d":4.215,"c":227},{"t":"103 K","d":4.245,"c":232},{"t":"103 K","d":4.255,"c":246},{"t":"103 K","d":4.267,"c":264},{"t":"103 K","d":4.275,"c":275},{"t":"103 K","d":4.283,"c":264},{"t":"103 K","d":4.295,"c":246},{"t":"103 K","d":4.31,"c":232},{"t":"103 K","d":4.33,"c":227},{"t":"103 K","d":4.37,"c":225.5},{"t":"103 K","d":4.45,"c":226},{"t":"103 K","d":4.59,"c":228},{"t":"103 K","d":4.7,"c":226},{"t":"103 K","d":4.8,"c":226.5},{"t":"103 K","d":4.85,"c":230},{"t":"103 K","d":4.9,"c":226.5},{"t":"103 K","d":4.98,"c":226.5},{"t":"103 K","d":5.04,"c":230},{"t":"103 K","d":5.06,"c":236},{"t":"103 K","d":5.078,"c":264},{"t":"103 K","d":5.09,"c":299},{"t":"103 K","d":5.1,"c":324},{"t":"103 K","d":5.11,"c":299},{"t":"103 K","d":5.122,"c":264},{"t":"103 K","d":5.135,"c":239},{"t":"103 K","d":5.16,"c":231},{"t":"103 K","d":5.22,"c":228},{"t":"103 K","d":5.32,"c":227},{"t":"103 K","d":5.43,"c":230.5},{"t":"103 K","d":5.5,"c":227.5},{"t":"103 K","d":5.6,"c":228},{"t":"103 K","d":5.64,"c":229.5},{"t":"103 K","d":5.662,"c":235},{"t":"103 K","d":5.685,"c":242},{"t":"103 K","d":5.708,"c":235},{"t":"103 K","d":5.735,"c":229.5},{"t":"103 K","d":5.8,"c":228},{"t":"103 K","d":5.9,"c":228.5},{"t":"103 K","d":5.95,"c":230},{"t":"103 K","d":5.98,"c":234},{"t":"103 K","d":6.01,"c":230},{"t":"103 K","d":6.06,"c":228.5},{"t":"103 K","d":6.1,"c":229.5},{"t":"103 K","d":6.16,"c":232},{"t":"103 K","d":6.185,"c":238},{"t":"103 K","d":6.205,"c":246},{"t":"103 K","d":6.225,"c":240},{"t":"103 K","d":6.25,"c":234},{"t":"103 K","d":6.3,"c":230.5},{"t":"103 K","d":6.38,"c":229.5},{"t":"103 K","d":6.45,"c":229},{"t":"103 K","d":6.5,"c":229},

        {"t":"108 K","d":3.6,"c":237},{"t":"108 K","d":3.66,"c":237.5},{"t":"108 K","d":3.72,"c":239},{"t":"108 K","d":3.78,"c":237},{"t":"108 K","d":3.85,"c":237.5},{"t":"108 K","d":3.905,"c":241},{"t":"108 K","d":3.95,"c":238.5},{"t":"108 K","d":3.995,"c":241},{"t":"108 K","d":4.05,"c":238.5},{"t":"108 K","d":4.1,"c":238},{"t":"108 K","d":4.13,"c":239},{"t":"108 K","d":4.16,"c":245},{"t":"108 K","d":4.19,"c":239.5},{"t":"108 K","d":4.215,"c":240},{"t":"108 K","d":4.245,"c":245},{"t":"108 K","d":4.255,"c":259},{"t":"108 K","d":4.267,"c":277},{"t":"108 K","d":4.275,"c":288},{"t":"108 K","d":4.283,"c":277},{"t":"108 K","d":4.295,"c":259},{"t":"108 K","d":4.31,"c":245},{"t":"108 K","d":4.33,"c":240},{"t":"108 K","d":4.37,"c":238.5},{"t":"108 K","d":4.45,"c":239},{"t":"108 K","d":4.59,"c":241},{"t":"108 K","d":4.7,"c":239},{"t":"108 K","d":4.8,"c":239.5},{"t":"108 K","d":4.85,"c":243},{"t":"108 K","d":4.9,"c":239.5},{"t":"108 K","d":4.98,"c":239.5},{"t":"108 K","d":5.04,"c":243},{"t":"108 K","d":5.06,"c":249},{"t":"108 K","d":5.078,"c":277},{"t":"108 K","d":5.09,"c":312},{"t":"108 K","d":5.1,"c":337},{"t":"108 K","d":5.11,"c":312},{"t":"108 K","d":5.122,"c":277},{"t":"108 K","d":5.135,"c":252},{"t":"108 K","d":5.16,"c":244},{"t":"108 K","d":5.22,"c":241},{"t":"108 K","d":5.32,"c":240},{"t":"108 K","d":5.43,"c":243.5},{"t":"108 K","d":5.5,"c":240.5},{"t":"108 K","d":5.6,"c":241},{"t":"108 K","d":5.65,"c":243.5},{"t":"108 K","d":5.68,"c":251},{"t":"108 K","d":5.71,"c":243.5},{"t":"108 K","d":5.76,"c":241.5},{"t":"108 K","d":5.85,"c":241},{"t":"108 K","d":5.95,"c":242},{"t":"108 K","d":5.985,"c":246},{"t":"108 K","d":6.02,"c":242},{"t":"108 K","d":6.1,"c":242.5},{"t":"108 K","d":6.16,"c":245},{"t":"108 K","d":6.185,"c":251},{"t":"108 K","d":6.205,"c":259},{"t":"108 K","d":6.225,"c":253},{"t":"108 K","d":6.25,"c":247},{"t":"108 K","d":6.3,"c":243.5},{"t":"108 K","d":6.38,"c":242.5},{"t":"108 K","d":6.45,"c":242},{"t":"108 K","d":6.5,"c":242},

        {"t":"113 K","d":3.6,"c":251},{"t":"113 K","d":3.66,"c":251.5},{"t":"113 K","d":3.72,"c":253},{"t":"113 K","d":3.78,"c":251},{"t":"113 K","d":3.85,"c":251.5},{"t":"113 K","d":3.905,"c":255},{"t":"113 K","d":3.95,"c":252.5},{"t":"113 K","d":3.995,"c":255},{"t":"113 K","d":4.05,"c":252.5},{"t":"113 K","d":4.1,"c":252},{"t":"113 K","d":4.16,"c":255.5},{"t":"113 K","d":4.215,"c":254},{"t":"113 K","d":4.245,"c":259},{"t":"113 K","d":4.255,"c":273},{"t":"113 K","d":4.267,"c":291},{"t":"113 K","d":4.275,"c":302},{"t":"113 K","d":4.283,"c":291},{"t":"113 K","d":4.295,"c":273},{"t":"113 K","d":4.31,"c":259},{"t":"113 K","d":4.33,"c":254},{"t":"113 K","d":4.37,"c":252.5},{"t":"113 K","d":4.45,"c":253},{"t":"113 K","d":4.59,"c":255},{"t":"113 K","d":4.7,"c":253},{"t":"113 K","d":4.8,"c":253.5},{"t":"113 K","d":4.85,"c":257},{"t":"113 K","d":4.9,"c":253.5},{"t":"113 K","d":4.98,"c":253.5},{"t":"113 K","d":5.04,"c":257},{"t":"113 K","d":5.06,"c":263},{"t":"113 K","d":5.078,"c":291},{"t":"113 K","d":5.09,"c":326},{"t":"113 K","d":5.1,"c":351},{"t":"113 K","d":5.11,"c":326},{"t":"113 K","d":5.122,"c":291},{"t":"113 K","d":5.135,"c":266},{"t":"113 K","d":5.16,"c":258},{"t":"113 K","d":5.22,"c":255},{"t":"113 K","d":5.32,"c":254},{"t":"113 K","d":5.43,"c":257.5},{"t":"113 K","d":5.5,"c":254.5},{"t":"113 K","d":5.6,"c":255},{"t":"113 K","d":5.65,"c":256.5},{"t":"113 K","d":5.675,"c":260},{"t":"113 K","d":5.7,"c":256.5},{"t":"113 K","d":5.75,"c":255},{"t":"113 K","d":5.8,"c":255},{"t":"113 K","d":5.9,"c":255},{"t":"113 K","d":5.96,"c":256},{"t":"113 K","d":5.99,"c":258},{"t":"113 K","d":6.02,"c":256},{"t":"113 K","d":6.1,"c":256.5},{"t":"113 K","d":6.16,"c":259},{"t":"113 K","d":6.185,"c":265},{"t":"113 K","d":6.205,"c":273},{"t":"113 K","d":6.225,"c":267},{"t":"113 K","d":6.25,"c":261},{"t":"113 K","d":6.3,"c":257.5},{"t":"113 K","d":6.38,"c":256.5},{"t":"113 K","d":6.45,"c":256},{"t":"113 K","d":6.5,"c":256},

        {"t":"118 K","d":3.6,"c":264},{"t":"118 K","d":3.66,"c":264.5},{"t":"118 K","d":3.72,"c":266},{"t":"118 K","d":3.78,"c":264},{"t":"118 K","d":3.85,"c":264.5},{"t":"118 K","d":3.905,"c":268},{"t":"118 K","d":3.95,"c":265.5},{"t":"118 K","d":3.995,"c":268},{"t":"118 K","d":4.05,"c":265.5},{"t":"118 K","d":4.1,"c":265},{"t":"118 K","d":4.16,"c":265.5},{"t":"118 K","d":4.215,"c":267},{"t":"118 K","d":4.245,"c":272},{"t":"118 K","d":4.255,"c":286},{"t":"118 K","d":4.267,"c":304},{"t":"118 K","d":4.275,"c":315},{"t":"118 K","d":4.283,"c":304},{"t":"118 K","d":4.295,"c":286},{"t":"118 K","d":4.31,"c":272},{"t":"118 K","d":4.33,"c":267},{"t":"118 K","d":4.37,"c":265.5},{"t":"118 K","d":4.45,"c":266},{"t":"118 K","d":4.59,"c":268},{"t":"118 K","d":4.7,"c":266},{"t":"118 K","d":4.8,"c":266.5},{"t":"118 K","d":4.85,"c":270},{"t":"118 K","d":4.9,"c":266.5},{"t":"118 K","d":4.98,"c":266.5},{"t":"118 K","d":5.04,"c":270},{"t":"118 K","d":5.06,"c":276},{"t":"118 K","d":5.078,"c":304},{"t":"118 K","d":5.09,"c":339},{"t":"118 K","d":5.1,"c":364},{"t":"118 K","d":5.11,"c":339},{"t":"118 K","d":5.122,"c":304},{"t":"118 K","d":5.135,"c":279},{"t":"118 K","d":5.16,"c":271},{"t":"118 K","d":5.22,"c":268},{"t":"118 K","d":5.32,"c":267},{"t":"118 K","d":5.43,"c":270.5},{"t":"118 K","d":5.5,"c":267.5},{"t":"118 K","d":5.6,"c":268},{"t":"118 K","d":5.7,"c":268},{"t":"118 K","d":5.8,"c":268},{"t":"118 K","d":5.9,"c":268},{"t":"118 K","d":6.0,"c":268},{"t":"118 K","d":6.1,"c":269.5},{"t":"118 K","d":6.16,"c":272},{"t":"118 K","d":6.185,"c":278},{"t":"118 K","d":6.205,"c":286},{"t":"118 K","d":6.225,"c":280},{"t":"118 K","d":6.25,"c":274},{"t":"118 K","d":6.3,"c":270.5},{"t":"118 K","d":6.38,"c":269.5},{"t":"118 K","d":6.45,"c":269},{"t":"118 K","d":6.5,"c":269},

        {"t":"150 K","d":3.6,"c":278},{"t":"150 K","d":3.66,"c":278.5},{"t":"150 K","d":3.72,"c":280},{"t":"150 K","d":3.78,"c":278},{"t":"150 K","d":3.85,"c":278.5},{"t":"150 K","d":3.905,"c":282},{"t":"150 K","d":3.95,"c":279.5},{"t":"150 K","d":3.995,"c":282},{"t":"150 K","d":4.05,"c":279.5},{"t":"150 K","d":4.1,"c":279},{"t":"150 K","d":4.16,"c":279.5},{"t":"150 K","d":4.215,"c":281},{"t":"150 K","d":4.245,"c":286},{"t":"150 K","d":4.255,"c":300},{"t":"150 K","d":4.267,"c":318},{"t":"150 K","d":4.275,"c":329},{"t":"150 K","d":4.283,"c":318},{"t":"150 K","d":4.295,"c":300},{"t":"150 K","d":4.31,"c":286},{"t":"150 K","d":4.33,"c":281},{"t":"150 K","d":4.37,"c":279.5},{"t":"150 K","d":4.45,"c":280},{"t":"150 K","d":4.59,"c":282},{"t":"150 K","d":4.7,"c":280},{"t":"150 K","d":4.8,"c":280.5},{"t":"150 K","d":4.85,"c":284},{"t":"150 K","d":4.9,"c":280.5},{"t":"150 K","d":4.98,"c":280.5},{"t":"150 K","d":5.04,"c":284},{"t":"150 K","d":5.06,"c":290},{"t":"150 K","d":5.078,"c":318},{"t":"150 K","d":5.09,"c":353},{"t":"150 K","d":5.1,"c":377},{"t":"150 K","d":5.11,"c":353},{"t":"150 K","d":5.122,"c":318},{"t":"150 K","d":5.135,"c":293},{"t":"150 K","d":5.16,"c":285},{"t":"150 K","d":5.22,"c":282},{"t":"150 K","d":5.32,"c":281},{"t":"150 K","d":5.43,"c":284.5},{"t":"150 K","d":5.5,"c":281.5},{"t":"150 K","d":5.6,"c":282},{"t":"150 K","d":5.7,"c":282},{"t":"150 K","d":5.8,"c":282},{"t":"150 K","d":5.9,"c":282},{"t":"150 K","d":6.0,"c":282},{"t":"150 K","d":6.1,"c":283.5},{"t":"150 K","d":6.16,"c":286},{"t":"150 K","d":6.185,"c":292},{"t":"150 K","d":6.205,"c":300},{"t":"150 K","d":6.225,"c":294},{"t":"150 K","d":6.25,"c":288},{"t":"150 K","d":6.3,"c":284.5},{"t":"150 K","d":6.38,"c":283.5},{"t":"150 K","d":6.45,"c":283},{"t":"150 K","d":6.5,"c":283}
      ]},
      "mark": {"type": "line", "strokeWidth": 1.35, "clip": true},
      "encoding": {
        "x": {"field": "d", "type": "quantitative",
          "scale": {"domain": [3.6, 6.5], "nice": false, "zero": false},
          "axis": {"orient": "bottom", "title": null, "values": [3.75, 4, 4.25, 4.5, 4.75, 5, 5.25, 5.5, 5.75, 6, 6.25, 6.5],
            "labelExpr": "datum.value % 0.5 < 0.001 ? format(datum.value, '.2f') : ''",
            "tickSize": 5, "labelFontSize": 15, "labelPadding": 3, "labelFlush": false, "labelOverlap": false}},
        "y": {"field": "c", "type": "quantitative",
          "scale": {"domain": [-2, 379], "nice": false, "zero": false},
          "axis": {"orient": "left", "title": null, "values": [0, 50, 100, 150, 200, 250, 300, 350],
            "tickSize": 5, "labelFontSize": 16, "labelPadding": 3, "labelFlush": false, "labelOverlap": false}},
        "color": {"field": "t", "type": "nominal", "legend": null,
          "scale": {
            "domain": ["1.5 K","36 K","42 K","45 K","48 K","51 K","55 K","75 K","90 K","91 K","92 K","93 K","94 K","95 K","96 K","97 K","103 K","108 K","113 K","118 K","150 K"],
            "range": ["#000000","#ff0000","#0000ff","#ff00ff","#008000","#000080","#8000ff","#a020a0","#9b0000","#9c9c14","#4573b5","#28a0a8","#c7761e","#38c838","#d9338c","#35c5cf","#4848a8","#a8b43a","#8c8c8c","#b5556a","#4d994d"]}}
      }
    },
    {
      "data": {"values": [
        {"t":"1.5 K","d":6.5,"c":6.5},{"t":"36 K","d":6.5,"c":20.5},{"t":"42 K","d":6.5,"c":34.8},{"t":"45 K","d":6.5,"c":48.8},
        {"t":"48 K","d":6.5,"c":62.7},{"t":"51 K","d":6.5,"c":76.4},{"t":"55 K","d":6.5,"c":91},{"t":"75 K","d":6.5,"c":104.6},
        {"t":"90 K","d":6.5,"c":118.6},{"t":"91 K","d":6.5,"c":132.6},{"t":"92 K","d":6.5,"c":146.3},{"t":"93 K","d":6.5,"c":160},
        {"t":"94 K","d":6.5,"c":174.2},{"t":"95 K","d":6.5,"c":188},{"t":"96 K","d":6.5,"c":201.9},{"t":"97 K","d":6.5,"c":215.9},
        {"t":"103 K","d":6.5,"c":230.2},{"t":"108 K","d":6.5,"c":244.4},{"t":"113 K","d":6.5,"c":257.8},{"t":"118 K","d":6.5,"c":272.3},
        {"t":"150 K","d":6.5,"c":286}
      ]},
      "mark": {"type": "text", "align": "left", "baseline": "middle", "dx": 3, "fontSize": 12, "fontWeight": "bold", "color": "black"},
      "encoding": {
        "x": {"field": "d", "type": "quantitative",
          "axis": {"orient": "top", "title": null, "values": [3.75, 4, 4.25, 4.5, 4.75, 5, 5.25, 5.5, 5.75, 6, 6.25], "labels": false, "tickSize": -5, "domain": false}},
        "y": {"field": "c", "type": "quantitative",
          "axis": {"orient": "right", "title": null, "values": [0, 50, 100, 150, 200, 250, 300, 350], "labels": false, "tickSize": -5, "domain": false}},
        "text": {"field": "t"}
      }
    },
    {
      "data": {"values": [
        {"s":"←","d":6.897,"c":272.3},{"s":"←","d":6.897,"c":146.3},{"s":"←","d":6.885,"c":76.4}
      ]},
      "mark": {"type": "text", "align": "center", "baseline": "middle", "fontSize": 15, "font": "DejaVu Sans", "color": "black"},
      "encoding": {
        "x": {"field": "d", "type": "quantitative", "axis": null},
        "y": {"field": "c", "type": "quantitative", "axis": null},
        "text": {"field": "s"}
      }
    },
    {
      "data": {"values": [
        {"s":"T","d":6.985,"c":272.3},{"s":"T","d":6.985,"c":146.3},{"s":"T","d":6.985,"c":76.4}
      ]},
      "mark": {"type": "text", "align": "left", "baseline": "middle", "fontSize": 17, "fontStyle": "italic", "color": "black"},
      "encoding": {
        "x": {"field": "d", "type": "quantitative", "axis": null},
        "y": {"field": "c", "type": "quantitative", "axis": null},
        "text": {"field": "s"}
      }
    },
    {
      "data": {"values": [
        {"s":"N1","d":7.085,"c":268},{"s":"N2","d":7.085,"c":72.2}
      ]},
      "mark": {"type": "text", "align": "left", "baseline": "middle", "fontSize": 11, "color": "black"},
      "encoding": {
        "x": {"field": "d", "type": "quantitative", "axis": null},
        "y": {"field": "c", "type": "quantitative", "axis": null},
        "text": {"field": "s"}
      }
    },
    {
      "data": {"values": [
        {"s":"INC","d":7.08,"c":142.1}
      ]},
      "mark": {"type": "text", "align": "left", "baseline": "middle", "fontSize": 11, "fontStyle": "italic", "color": "black"},
      "encoding": {
        "x": {"field": "d", "type": "quantitative", "axis": null},
        "y": {"field": "c", "type": "quantitative", "axis": null},
        "text": {"field": "s"}
      }
    },
    {
      "data": {"values": [
        {"s":"WISH 90° bank","d":3.718,"c":359.5}
      ]},
      "mark": {"type": "text", "align": "left", "baseline": "middle", "fontSize": 19, "color": "black"},
      "encoding": {
        "x": {"field": "d", "type": "quantitative", "axis": null},
        "y": {"field": "c", "type": "quantitative", "axis": null},
        "text": {"field": "s"}
      }
    },
    {
      "data": {"values": [
        {"s":"½ 0 ½","d":5.645,"c":329}
      ]},
      "mark": {"type": "text", "align": "left", "baseline": "middle", "fontSize": 15, "color": "black"},
      "encoding": {
        "x": {"field": "d", "type": "quantitative", "axis": null},
        "y": {"field": "c", "type": "quantitative", "axis": null},
        "text": {"field": "s"}
      }
    },
    {
      "data": {"values": [
        {"s":"d","d":4.634,"c":-37.5}
      ]},
      "mark": {"type": "text", "align": "right", "baseline": "middle", "fontSize": 18.5, "fontStyle": "italic", "color": "black"},
      "encoding": {
        "x": {"field": "d", "type": "quantitative", "axis": null},
        "y": {"field": "c", "type": "quantitative", "axis": null},
        "text": {"field": "s"}
      }
    },
    {
      "data": {"values": [
        {"s":"-spacing (Å)","d":4.634,"c":-37.5}
      ]},
      "mark": {"type": "text", "align": "left", "baseline": "middle", "fontSize": 18.5, "color": "black"},
      "encoding": {
        "x": {"field": "d", "type": "quantitative", "axis": null},
        "y": {"field": "c", "type": "quantitative", "axis": null},
        "text": {"field": "s"}
      }
    },
    {
      "data": {"values": [
        {"s":"offset counts per","d":3.178,"c":118.6}
      ]},
      "mark": {"type": "text", "align": "left", "baseline": "middle", "fontSize": 18.5, "angle": 270, "color": "black"},
      "encoding": {
        "x": {"field": "d", "type": "quantitative", "axis": null},
        "y": {"field": "c", "type": "quantitative", "axis": null},
        "text": {"field": "s"}
      }
    },
    {
      "data": {"values": [
        {"s":"μs","d":3.178,"c":248}
      ]},
      "mark": {"type": "text", "align": "left", "baseline": "middle", "fontSize": 18.5, "fontStyle": "italic", "angle": 270, "color": "black"},
      "encoding": {
        "x": {"field": "d", "type": "quantitative", "axis": null},
        "y": {"field": "c", "type": "quantitative", "axis": null},
        "text": {"field": "s"}
      }
    }
  ]
}
